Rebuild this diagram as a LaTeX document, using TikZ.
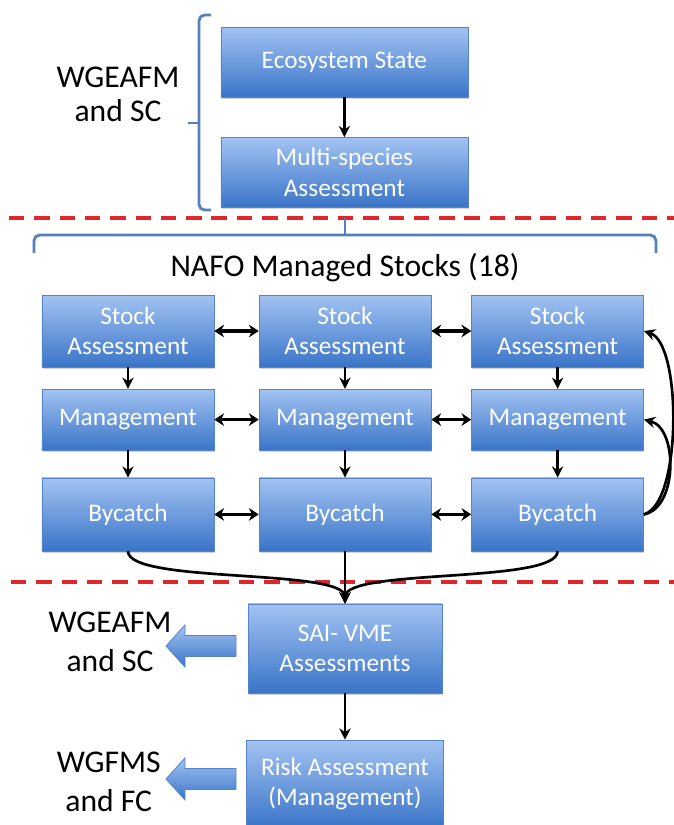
\documentclass[tikz,border=0pt]{standalone}
\usepackage{fontspec}
\setmainfont{Carlito}
\usepackage{xcolor}
\usepackage{tikz}
\usetikzlibrary{calc, arrows.meta, positioning, shadows}

\definecolor{boxtop}{HTML}{A2C3F2}
\definecolor{boxbot}{HTML}{3A74C8}
\definecolor{boxline}{HTML}{5585C8}
\definecolor{bracecol}{HTML}{5580BE}
\definecolor{cutred}{HTML}{E0262B}

\begin{document}
\begin{tikzpicture}[auto, >=latex, font=\fontsize{22.5}{24}\selectfont]
		\tikzstyle{box} = [draw=boxline, rectangle, top color=boxtop, bottom color=boxbot, text=white, align=center, font=\fontsize{18}{21.5}\selectfont, inner sep=0pt, drop shadow={opacity=0.35, shadow xshift=0.6pt, shadow yshift=-1.2pt}]
		\tikzstyle{wide} = [box, minimum width=6.175cm, minimum height=1.75cm]
		\tikzstyle{stock} = [box, minimum width=4.3cm]
		\tikzstyle{label} = [align=center, text=black]
		\tikzstyle{arrow} = [line width=1.6pt, -{Stealth[length=8pt, width=8pt]}]
		\tikzstyle{link} = [line width=2.2pt, {Stealth[length=7pt, width=9pt]}-{Stealth[length=7pt, width=9pt]}]
		\tikzstyle{cut} = [draw=cutred, line width=2.2pt, dash pattern=on 11pt off 7pt]
		\tikzstyle{brace} = [draw=bracecol, line width=2pt, rounded corners=4pt]
		\tikzstyle{block} = [draw=boxline, top color=boxtop, bottom color=boxbot, line width=0.6pt]

		\useasboundingbox (0, 0) rectangle (16.85, -20.625);

		\draw[cut] (0.225, -5.45) -- (16.85, -5.45);
		\draw[cut] (0.275, -14.55) -- (16.85, -14.55);

		\node[wide]	at (8.61, -1.55)	(eco)	{Ecosystem State};
		\node[wide]	at (8.61, -4.31)	(multi)	{Multi-species\\Assessment};
		\node[label]	at (2.95, -2.35)	(wg1)	{WGEAFM\\and SC};

		\draw[brace] (5.275, -0.375) -- (4.975, -0.375) -- (4.975, -5.25) -- (5.275, -5.25);
		\draw[brace] (4.975, -3.075) -- (4.7, -3.075);
		\draw[brace] (0.85, -6.325) -- (0.85, -5.875) -- (16.4, -5.875) -- (16.4, -6.325);
		\draw[brace] (8.625, -5.875) -- (8.625, -5.45);

		\node[label]	at (8.625, -6.7)	(nafo)	{NAFO Managed Stocks (18)};

		\node[stock, minimum height=1.8cm]	at (3.2, -8.275)	(s1)	{Stock\\Assessment};
		\node[stock, minimum height=1.8cm]	at (8.625, -8.275)	(s2)	{Stock\\Assessment};
		\node[stock, minimum height=1.8cm]	at (13.94, -8.275)	(s3)	{Stock\\Assessment};
		\node[stock, minimum height=1.525cm]	at (3.2, -10.49)	(m1)	{Management};
		\node[stock, minimum height=1.525cm]	at (8.625, -10.49)	(m2)	{Management};
		\node[stock, minimum height=1.525cm]	at (13.94, -10.49)	(m3)	{Management};
		\node[stock, minimum height=1.825cm]	at (3.2, -12.86)	(b1)	{Bycatch};
		\node[stock, minimum height=1.825cm]	at (8.625, -12.86)	(b2)	{Bycatch};
		\node[stock, minimum height=1.825cm]	at (13.94, -12.86)	(b3)	{Bycatch};

		\node[box, minimum width=4.85cm, minimum height=2.225cm]	at (8.625, -16.21)	(sai)	{SAI- VME\\Assessments};
		\node[box, minimum width=4.925cm, minimum height=2.2cm]	at (8.625, -19.6)	(risk)	{Risk Assessment\\(Management)};

		\node[label, font=\fontsize{22.5}{28}\selectfont]	at (2.75, -16.05)	(wg2)	{WGEAFM\\and SC};
		\node[label, font=\fontsize{22.5}{28}\selectfont]	at (2.72, -19.55)	(wg3)	{WGFMS\\and FC};

		% feedback to the ecosystem and fisheries groups
		\path[block] (5.9, -15.888) -- (4.625, -15.888) -- (4.625, -15.625) -- (4.15, -16.15) -- (4.625, -16.675) -- (4.625, -16.412) -- (5.9, -16.412) -- cycle;
		\path[block] (5.9, -19.213) -- (4.625, -19.213) -- (4.625, -18.95) -- (4.15, -19.475) -- (4.625, -20.0) -- (4.625, -19.738) -- (5.9, -19.738) -- cycle;

		\draw [arrow] (eco) -- (multi);
		\draw [arrow] (s1) -- (m1);
		\draw [arrow] (s2) -- (m2);
		\draw [arrow] (s3) -- (m3);
		\draw [arrow] (m1) -- (b1);
		\draw [arrow] (m2) -- (b2);
		\draw [arrow] (m3) -- (b3);

		\draw [link] (s1) -- (s2);
		\draw [link] (s2) -- (s3);
		\draw [link] (m1) -- (m2);
		\draw [link] (m2) -- (m3);
		\draw [link] (b1) -- (b2);
		\draw [link] (b2) -- (b3);

		\draw [arrow, line width=1.9pt] (b3.east) .. controls (17.05, -12.6) and (17.05, -8.6) .. (s3.east);
		\draw [arrow, line width=1.9pt] (b3.east) .. controls (16.95, -12.7) and (16.95, -10.7) .. (m3.east);

		\draw [arrow, line width=1.9pt] (b1.south) .. controls (3.2, -14.6) and (8.625, -14.2) .. (sai.north);
		\draw [arrow, line width=1.9pt] (b3.south) .. controls (13.94, -14.6) and (8.625, -14.2) .. (sai.north);
		\draw [arrow] (b2) -- (sai);
		\draw [arrow] (sai) -- (risk);
	\end{tikzpicture}
\end{document}
